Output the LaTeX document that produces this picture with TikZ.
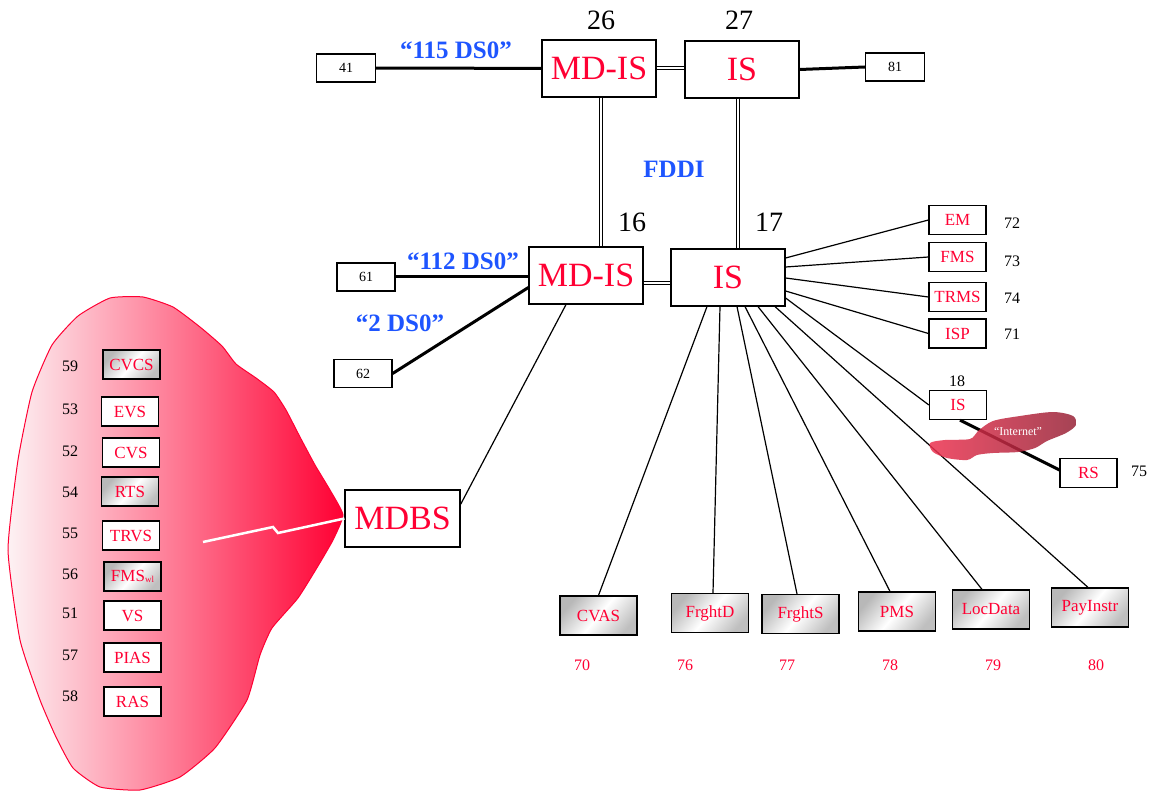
\documentclass[tikz,border=0pt]{standalone}
\usepackage{fontspec}
\setmainfont{Liberation Serif}
\usepackage{tikz}
\usetikzlibrary{calc}
\definecolor{alertred}{RGB}{255,0,51}
\definecolor{linkblue}{RGB}{30,85,255}
\definecolor{netdark}{RGB}{150,35,55}
\definecolor{netlight}{RGB}{238,50,80}
\definecolor{blushpink}{RGB}{253,242,244}
\tikzset{
  router/.style={draw,line width=1.2pt,fill=white,inner sep=0pt,minimum width=114pt,
                 minimum height=57pt,text=alertred,font=\fontsize{34}{34}\selectfont},
  portbox/.style={draw,line width=1.2pt,fill=white,inner sep=0pt,minimum width=59pt,
                  minimum height=28pt,font=\fontsize{14}{14}\selectfont},
  appbox/.style={draw,line width=1.2pt,fill=white,inner sep=0pt,minimum width=57pt,
                 minimum height=29pt,text=alertred,font=\fontsize{17}{17}\selectfont},
  shadebox/.style={appbox,top color=black!28,bottom color=black!25,middle color=white,
                   shading angle=50},
  svcbox/.style={shadebox,minimum width=77pt,minimum height=39pt},
  idnum/.style={font=\fontsize{28}{28}\selectfont},
  tagnum/.style={font=\fontsize{16}{16}\selectfont},
  rate/.style={text=linkblue,font=\fontsize{25}{25}\selectfont\bfseries},
  trunk/.style={line width=3pt},
  ring/.style={double,line width=1pt,double distance=2pt},
  tie/.style={line width=1.2pt},
}
\begin{document}
\begin{tikzpicture}[x=1pt,y=-1pt]
  \useasboundingbox[fill=white] (0,0) rectangle (1151,794);
  % database cloud
  \path[draw=alertred,line width=1pt,left color=blushpink,right color=alertred]
    plot[smooth cycle,tension=0.3] coordinates {(110,298) (143,297) (173,307) (200,327)
    (222,346) (236,364) (256,378) (274,392) (286,410) (300,437) (315,465) (330,490)
    (343,515) (333,540) (318,566) (298,598) (272,628) (260,655) (247,700) (215,748)
    (180,777) (140,790) (100,787) (73,768) (56,737) (40,700) (20,640) (8,550) (18,460)
    (32,392) (52,345) (78,316)};
  % backbone
  \node[portbox] (n41) at (346,68) {41};
  \node[router] (mdisa) at (599,68.5) {MD-IS};
  \node[router] (isa) at (742,69.5) {IS};
  \node[portbox] (n81) at (895,67) {81};
  \node[router] (mdisb) at (586,275.5) {MD-IS};
  \node[router] (isb) at (728,277.5) {IS};
  \node[portbox,minimum width=58pt] (n61) at (366,277) {61};
  \node[portbox,minimum width=58pt] (n62) at (363,373.5) {62};
  \node[router,minimum width=115pt] (mdbs) at (402.5,518.5) {MDBS};
  \node[idnum] (l26) at (601,20) {26};
  \node[idnum] (l27) at (739,20) {27};
  \node[idnum] (l16) at (632,222) {16};
  \node[idnum] (l17) at (769,222) {17};
  \node[rate] (r115) at (456,50) {``115 DS0''};
  \node[rate] (r112) at (463,261) {``112 DS0''};
  \node[rate] (r2) at (400,323) {``2 DS0''};
  \node[rate] (fddi) at (674,169) {FDDI};
  % right column
  \node[appbox] (em) at (957.5,220) {EM};
  \node[appbox] (fms) at (957.5,257) {FMS};
  \node[appbox] (trms) at (957.5,297) {TRMS};
  \node[appbox] (isp) at (957.5,333.5) {ISP};
  \node[appbox] (isc) at (958,405) {IS};
  \node[appbox] (rs) at (1088.5,473) {RS};
  \node[tagnum] (l18) at (957,381) {18};
  \foreach \t/\y in {72/223,73/261,74/298,71/334}
    {\node[tagnum] at (1012,\y) {\t};}
  \node[tagnum] (l75) at (1139,471) {75};
  % left column
  \node[shadebox] (cvcs) at (131.5,364.5) {CVCS};
  \node[appbox] (evs) at (130,411.5) {EVS};
  \node[appbox] (cvs) at (131,452.5) {CVS};
  \node[shadebox] (rts) at (130,491.5) {RTS};
  \node[appbox] (trvs) at (131,535.5) {TRVS};
  \node[shadebox] (fmswl) at (132.5,576.5)
    {FMS\raisebox{-1pt}{\fontsize{9}{9}\selectfont wl}};
  \node[appbox] (vs) at (132.5,615.5) {VS};
  \node[appbox] (pias) at (132.5,657.5) {PIAS};
  \node[appbox] (ras) at (132.5,701.5) {RAS};
  \foreach \t/\y in {59/366,53/409,52/451,54/492,55/533,56/574,51/613,57/655,58/696}
    {\node[tagnum] at (70,\y) {\t};}
  % bottom row
  \node[svcbox] (cvas) at (598.5,615.5) {CVAS};
  \node[svcbox] (frghtd) at (710,613) {FrghtD};
  \node[svcbox] (frghts) at (800.5,614) {FrghtS};
  \node[svcbox] (pms) at (897,611.5) {PMS};
  \node[svcbox] (locdata) at (991,609.5) {LocData};
  \node[svcbox] (payinstr) at (1090,607.5) {PayInstr};
  \foreach \t/\x in {70/582,76/685,77/787,78/890,79/993,80/1096}
    {\node[tagnum,text=alertred] at (\x,665) {\t};}
  % links
  \draw[trunk] (n41) -- (mdisa);
  \draw[trunk] (isa.east) -- (n81.west);
  \draw[trunk] (n61.east) -- (n61.east -| mdisb.west);
  \draw[trunk] (n62.east) -- ([yshift=-12pt]mdisb.west);
  \draw[ring] (mdisa.east) -- (mdisa.east -| isa.west);
  \draw[ring] ([xshift=2pt]mdisa.south) -- ([xshift=2pt]mdisa.south |- mdisb.north);
  \draw[ring] ([xshift=-4pt]isa.south) -- ([xshift=-4pt]isa.south |- isb.north);
  \draw[ring] ([yshift=-8pt]mdisb.east) -- ([yshift=-8pt]mdisb.east -| isb.west);
  \draw[tie] ([yshift=-15pt]mdbs.north east) -- ([xshift=-20pt]mdisb.south);
  \foreach \s/\t in {19.5/em,10.5/fms,-0.5/trms,-13.5/isp,-20.5/isc}
    {\draw[tie] ([yshift=\s pt]isb.east) -- (\t.west);}
  \foreach \s/\t/\e in {-21/cvas/0,-8/frghtd/3,9/frghts/-3.5,17/pms/-7,30/locdata/-9,
                        47/payinstr/-2}
    {\draw[tie] ([xshift=\s pt]isb.south) -- ([xshift=\e pt]\t.north);}
  \draw[trunk] ([xshift=2pt]isc.south) -- ([yshift=3pt]rs.west);
  % internet cloud
  \path[left color=netlight,right color=netdark,opacity=.85]
    plot[smooth cycle,tension=0.5] coordinates {(930,443) (945,440) (970,439) (978,431)
    (993,421) (1020,416) (1053,412) (1073,416) (1076,425) (1066,433) (1047,441)
    (1035,448) (1018,452) (993,453) (977,455) (967,460) (947,458) (933,452)};
  \node[text=white,font=\fontsize{12}{12}\selectfont] (inet) at (1018,432) {``Internet''};
  % link into the database cloud
  \coordinate (zap) at (203,542);
  \draw[white,line width=2.5pt] (zap) -- (273,527) -- (278,533) -- (mdbs.west);
\end{tikzpicture}
\end{document}
